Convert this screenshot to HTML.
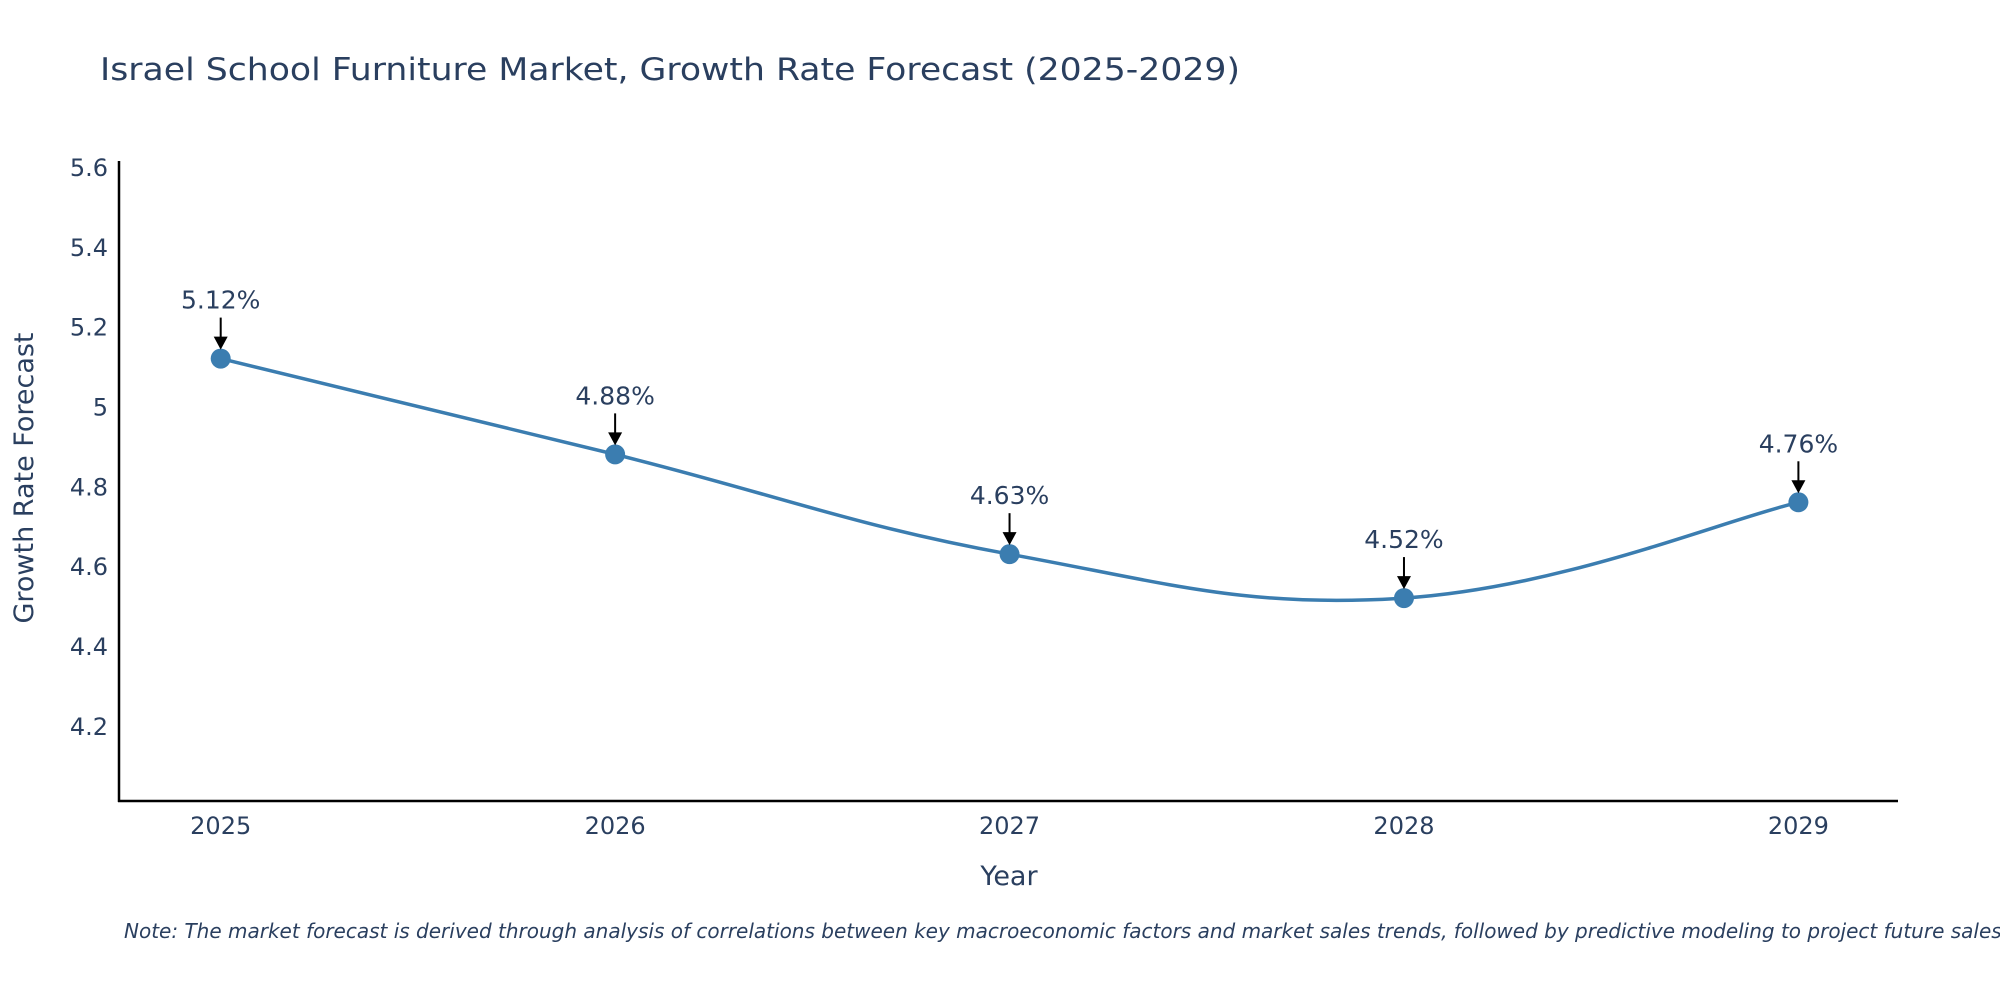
<!DOCTYPE html>
<html><head><meta charset="utf-8"><style>
body{margin:0;background:#fff;}
text{font-family:"DejaVu Sans","Liberation Sans",sans-serif;fill:#2a3f5f;}
</style></head><body>
<svg id="chart" width="2000" height="1000" viewBox="0 0 2000 1000" xmlns="http://www.w3.org/2000/svg">
<text x="100" y="80" font-size="31" textLength="1140" lengthAdjust="spacingAndGlyphs">Israel School Furniture Market, Growth Rate Forecast (2025-2029)</text>
<g id="yticks"></g>
<g id="xticks"></g>
<line x1="119" y1="161" x2="119" y2="802" stroke="#000" stroke-width="2.5"/>
<line x1="118" y1="801" x2="1898" y2="801" stroke="#000" stroke-width="2.5"/>
<text transform="translate(33,478) rotate(-90)" text-anchor="middle" font-size="27">Growth Rate Forecast</text>
<text x="1009" y="885" text-anchor="middle" font-size="27">Year</text>
<g id="series"></g>
<text x="124" y="938" font-size="20" font-style="italic" fill="#222">Note: The market forecast is derived through analysis of correlations between key macroeconomic factors and market sales trends, followed by predictive modeling to project future sales.</text>
</svg>
<script>
const years=[2025,2026,2027,2028,2029];
const values=[5.12,4.88,4.63,4.52,4.76];
const labels=["5.12%","4.88%","4.63%","4.52%","4.76%"];
const yTicks=[4.2,4.4,4.6,4.8,5,5.2,5.4,5.6];
const yTickLabels=["4.2","4.4","4.6","4.8","5","5.2","5.4","5.6"];
const NS="http://www.w3.org/2000/svg";
function xs(v){return 220.7+(v-2025)*(1798.4-220.7)/4;}
function ys(v){return 725.8-(v-4.2)*(725.8-167)/1.4;}
function mk(t,a,p){const e=document.createElementNS(NS,t);for(const k in a)e.setAttribute(k,a[k]);p.appendChild(e);return e;}
const yg=document.getElementById('yticks');
yTicks.forEach((v,i)=>{const t=mk('text',{x:108,y:ys(v)+9,'text-anchor':'end','font-size':24},yg);


t.textContent=yTickLabels[i];});
const xg=document.getElementById('xticks');
years.forEach(v=>{const t=mk('text',{x:xs(v),y:834,'text-anchor':'middle','font-size':24},xg);


t.textContent=v;});
const g=document.getElementById('series');
const P=years.map((y,i)=>[xs(y),ys(values[i])]);
let d=`M${P[0][0]},${P[0][1]}`;
for(let i=0;i<P.length-1;i++){const p0=P[Math.max(0,i-1)],p1=P[i],p2=P[i+1],p3=P[Math.min(P.length-1,i+2)];const s=0.2;
d+=` C${p1[0]+(p2[0]-p0[0])*s},${p1[1]+(p2[1]-p0[1])*s} ${p2[0]-(p3[0]-p1[0])*s},${p2[1]-(p3[1]-p1[1])*s} ${p2[0]},${p2[1]}`;}
const line=mk('path',{d:d,fill:'none',stroke:'#3b7db0','stroke-width':3.5},g);


P.forEach((p,i)=>{
const c=mk('circle',{cx:p[0],cy:p[1],r:10,fill:'#3b7db0'},g);


const a=mk('line',{x1:p[0],y1:p[1]-41,x2:p[0],y2:p[1]-20,stroke:'#000','stroke-width':2},g);


const h=mk('polygon',{points:`${p[0]-7},${p[1]-22} ${p[0]+7},${p[1]-22} ${p[0]},${p[1]-9}`,fill:'#000'},g);


const t=mk('text',{x:p[0],y:p[1]-50,'text-anchor':'middle','font-size':25},g);


t.textContent=labels[i];});
</script>
</body></html>
